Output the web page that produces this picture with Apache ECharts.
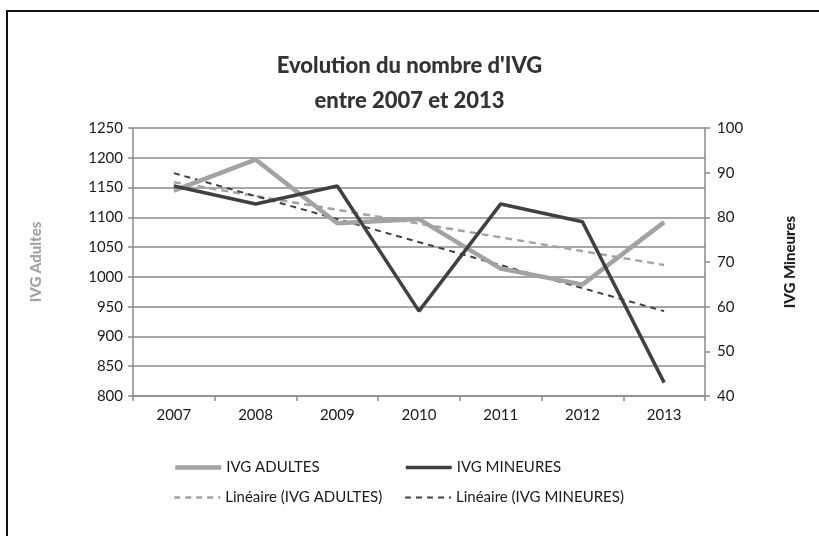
<!DOCTYPE html>
<html>
<head>
<meta charset="utf-8">
<script src="https://cdn.jsdelivr.net/npm/echarts@6/dist/echarts.min.js"></script>
<style>
html,body{margin:0;padding:0;background:#fff;}
#c{width:819px;height:536px;}
</style>
</head>
<body>
<div id="c"></div>
<script>
const years = ['2007','2008','2009','2010','2011','2012','2013'];
const ivgAdultes = [1145, 1197, 1090, 1097, 1014, 987, 1092];
const ivgMineures = [87, 83, 87, 59, 83, 79, 43];
const trendAdultes = [1159, null, null, null, null, null, 1020];
const trendMineures = [89.9, null, null, null, null, null, 59];
const leftTicks = [800, 1250, 50];
const rightTicks = [40, 100, 10];

const FONT = 'Lato, "Open Sans", sans-serif';
const LIGHT = '#a3a3a3';
const DARK = '#404040';

const chart = echarts.init(document.getElementById('c'));
const legendText = {fontFamily: FONT, fontSize: 15, color: '#1a1a1a'};
function lg(name, left, top, lw, dash) {
  return {data: [name], left: left, top: top, orient: 'horizontal', itemWidth: 46, itemHeight: 12, itemGap: 0,
          textStyle: legendText, itemStyle: {opacity: 0},
          lineStyle: dash ? {width: lw, type: dash} : {width: lw}};
}
chart.setOption({
  animation: false,
  backgroundColor: '#fff',
  textStyle: {fontFamily: FONT},
  title: {
    text: "Evolution du nombre d'IVG\nentre 2007 et 2013",
    left: 'center', top: 43,
    textStyle: {fontFamily: FONT, fontSize: 22, fontWeight: 900, color: '#333', lineHeight: 35}
  },
  graphic: [{
    type: 'rect', shape: {x: 7, y: 11, width: 1000, height: 1000},
    style: {fill: null, stroke: '#111', lineWidth: 2}, silent: true
  }],
  legend: [
    lg('IVG ADULTES', 168, 455, 4.5),
    lg('IVG MINEURES', 399, 455, 3.5),
    lg('Linéaire (IVG ADULTES)', 168, 485, 2.5, [6, 5]),
    lg('Linéaire (IVG MINEURES)', 399, 485, 2, [6, 5])
  ],
  grid: {left: 133, right: 114, top: 128, bottom: 140},
  xAxis: {
    type: 'category', data: years, boundaryGap: true,
    axisLine: {lineStyle: {color: '#8a8a8a', width: 1.5}},
    axisTick: {show: true, length: 5, lineStyle: {color: '#8a8a8a', width: 1.5}},
    axisLabel: {fontFamily: FONT, fontSize: 15, color: '#1a1a1a', margin: 12}
  },
  yAxis: [{
    type: 'value', min: leftTicks[0], max: leftTicks[1], interval: leftTicks[2],
    name: 'IVG Adultes', nameLocation: 'middle', nameGap: 89, nameRotate: 90,
    nameTextStyle: {fontFamily: FONT, fontSize: 15, fontWeight: 900, color: LIGHT},
    axisLine: {show: true, lineStyle: {color: '#8a8a8a', width: 1.5}},
    axisTick: {show: true, length: 5, lineStyle: {color: '#8a8a8a', width: 1.5}},
    axisLabel: {fontFamily: FONT, fontSize: 15, color: '#1a1a1a', margin: 10, formatter: v => String(v)},
    splitLine: {lineStyle: {color: '#8a8a8a', width: 1.5}}
  }, {
    type: 'value', min: rightTicks[0], max: rightTicks[1], interval: rightTicks[2],
    position: 'right',
    name: 'IVG Mineures', nameLocation: 'middle', nameGap: 78, nameRotate: 90,
    nameTextStyle: {fontFamily: FONT, fontSize: 15, fontWeight: 900, color: '#222'},
    axisLine: {show: true, lineStyle: {color: '#8a8a8a', width: 1.5}},
    axisTick: {show: true, length: 5, lineStyle: {color: '#8a8a8a', width: 1.5}},
    axisLabel: {fontFamily: FONT, fontSize: 15, color: '#1a1a1a', margin: 12, formatter: v => String(v)},
    splitLine: {show: false}
  }],
  series: [{
    name: 'IVG ADULTES', type: 'line', yAxisIndex: 0, data: ivgAdultes,
    symbol: 'none', lineStyle: {color: LIGHT, width: 4.5}, itemStyle: {color: LIGHT}, z: 3
  }, {
    name: 'IVG MINEURES', type: 'line', yAxisIndex: 1, data: ivgMineures,
    symbol: 'none', lineStyle: {color: DARK, width: 3.5}, itemStyle: {color: DARK}, z: 4
  }, {
    name: 'Linéaire (IVG ADULTES)', type: 'line', yAxisIndex: 0, data: trendAdultes, connectNulls: true,
    symbol: 'none', lineStyle: {color: LIGHT, width: 2.5, type: [7, 5]}, itemStyle: {color: LIGHT}, z: 2
  }, {
    name: 'Linéaire (IVG MINEURES)', type: 'line', yAxisIndex: 1, data: trendMineures, connectNulls: true,
    symbol: 'none', lineStyle: {color: DARK, width: 2, type: [6, 5]}, itemStyle: {color: DARK}, z: 2
  }]
});
</script>
</body>
</html>
